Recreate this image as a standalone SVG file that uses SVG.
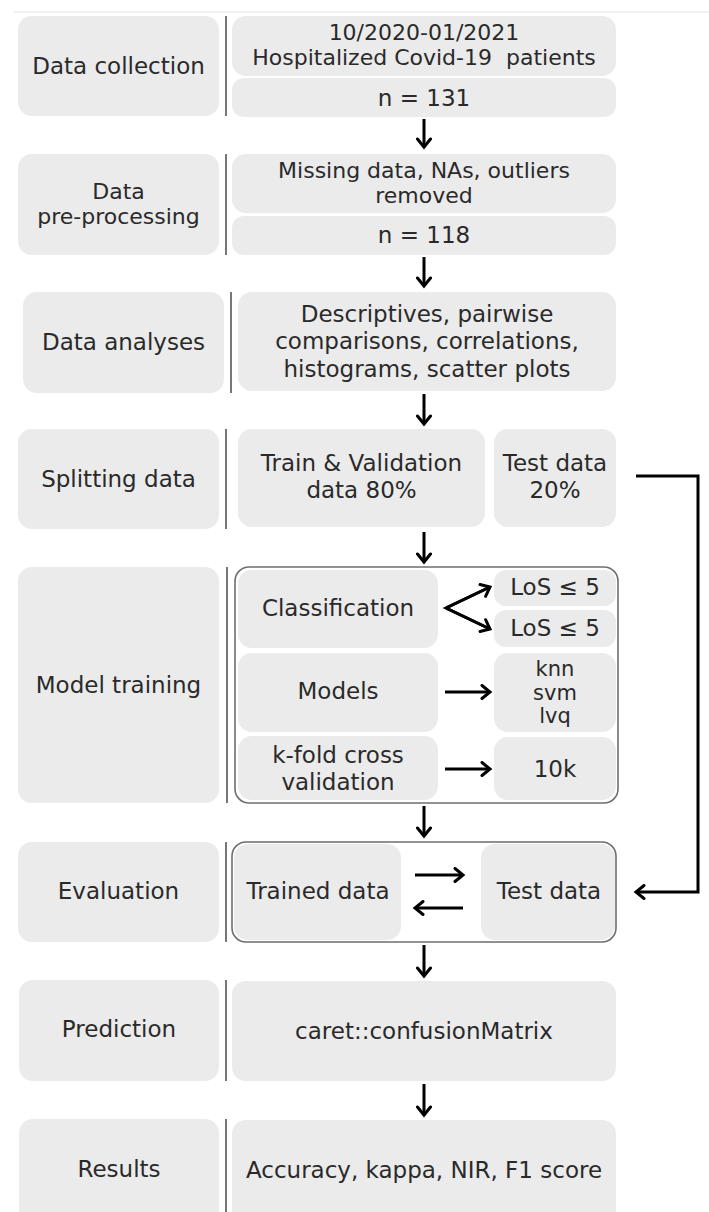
<svg xmlns="http://www.w3.org/2000/svg" width="709" height="1212" viewBox="0 0 709 1212">
<style>
.box{fill:#ebebeb;}
.t{font-family:"DejaVu Sans","Liberation Sans",sans-serif;font-size:23px;fill:#2a2a2a;text-anchor:middle;}
.s{font-size:22px;}
.xs{font-size:21px;}
.sep{stroke:#555;stroke-width:1.6;}
.cont{fill:none;stroke:#6e6e6e;stroke-width:1.6;}
.arr{stroke:#000;stroke-width:3;fill:none;marker-end:url(#ah);}
</style>
<defs>
<marker id="ah" viewBox="0 0 14 16" refX="11" refY="8" markerWidth="14" markerHeight="16" markerUnits="userSpaceOnUse" orient="auto">
<path d="M3,1.5 L11,8 L3,14.5" fill="none" stroke="#000" stroke-width="3" stroke-linecap="round" stroke-linejoin="miter"/>
</marker>
</defs>
<rect width="709" height="1212" fill="#fff"/>
<line x1="13" y1="12" x2="709" y2="12" stroke="#f1f1f1" stroke-width="2"/>

<g id="row1">
<rect class="box" x="18" y="16" width="201" height="100" rx="14"/>
<line class="sep" x1="226" y1="16" x2="226" y2="116"/>
<text class="t" x="118.5" y="74">Data collection</text>
<g id="n1a"><rect class="box" x="232" y="16" width="384" height="60" rx="14"/>
<text class="t s" x="424" y="40">10/2020-01/2021</text>
<text class="t s" x="424" y="65" xml:space="preserve">Hospitalized Covid-19  patients</text></g>
<g id="n1b"><rect class="box" x="232" y="78" width="384" height="39" rx="12"/>
<text class="t" x="424" y="106">n = 131</text></g>
</g>

<g id="row2">
<rect class="box" x="18" y="154" width="201" height="101" rx="14"/>
<line class="sep" x1="226" y1="154" x2="226" y2="255"/>
<text class="t s" x="118.5" y="199">Data</text>
<text class="t s" x="118.5" y="224">pre-processing</text>
<g id="n2a"><rect class="box" x="232" y="154" width="384" height="59" rx="14"/>
<text class="t s" x="424" y="178">Missing data, NAs, outliers</text>
<text class="t s" x="424" y="203">removed</text></g>
<g id="n2b"><rect class="box" x="232" y="216" width="384" height="39" rx="12"/>
<text class="t" x="424" y="243">n = 118</text></g>
</g>

<g id="row3">
<rect class="box" x="23" y="292" width="201" height="101" rx="14"/>
<line class="sep" x1="231" y1="292" x2="231" y2="393"/>
<text class="t" x="123.5" y="350">Data analyses</text>
<g id="n3"><rect class="box" x="238" y="292" width="378" height="99" rx="14"/>
<text class="t" x="427" y="322">Descriptives, pairwise</text>
<text class="t" x="427" y="349">comparisons, correlations,</text>
<text class="t" x="427" y="377">histograms, scatter plots</text></g>
</g>

<g id="row4">
<rect class="box" x="18" y="429" width="201" height="100" rx="14"/>
<line class="sep" x1="226" y1="429" x2="226" y2="529"/>
<text class="t" x="118.5" y="487">Splitting data</text>
<g id="n4a"><rect class="box" x="238" y="429" width="247" height="98" rx="14"/>
<text class="t" x="361.5" y="471">Train &amp; Validation</text>
<text class="t" x="361.5" y="498">data 80%</text></g>
<g id="n4b"><rect class="box" x="494" y="429" width="122" height="98" rx="14"/>
<text class="t" x="555" y="471">Test data</text>
<text class="t" x="555" y="498">20%</text></g>
</g>

<g id="row5">
<rect class="box" x="18" y="567" width="201" height="236" rx="14"/>
<line class="sep" x1="227" y1="567" x2="227" y2="803"/>
<text class="t" x="118.5" y="693">Model training</text>
<g id="n5a"><rect class="box" x="238" y="570" width="200" height="78" rx="14"/>
<text class="t" x="338" y="616">Classification</text></g>
<g id="n5b"><rect class="box" x="494" y="570" width="122" height="36" rx="12"/>
<text class="t" x="555" y="595">LoS ≤ 5</text></g>
<g id="n5c"><rect class="box" x="494" y="610" width="122" height="37" rx="12"/>
<text class="t" x="555" y="636">LoS ≤ 5</text></g>
<g id="n5d"><rect class="box" x="238" y="653" width="200" height="79" rx="14"/>
<text class="t" x="338" y="699">Models</text></g>
<g id="n5e"><rect class="box" x="494" y="653" width="122" height="79" rx="14"/>
<text class="t xs" x="555" y="676">knn</text>
<text class="t xs" x="555" y="700">svm</text>
<text class="t xs" x="555" y="723">lvq</text></g>
<g id="n5f"><rect class="box" x="238" y="736" width="200" height="64" rx="14"/>
<text class="t" x="338" y="763">k-fold cross</text>
<text class="t" x="338" y="790">validation</text></g>
<g id="n5g"><rect class="box" x="494" y="737" width="122" height="63" rx="14"/>
<text class="t" x="555" y="777">10k</text></g>
<rect class="cont" x="235" y="567" width="383" height="236" rx="14"/>
</g>

<g id="row6">
<rect class="box" x="18" y="842" width="201" height="100" rx="14"/>
<line class="sep" x1="226" y1="842" x2="226" y2="942"/>
<text class="t" x="118.5" y="899">Evaluation</text>
<g id="n6a"><rect class="box" x="234" y="844" width="167" height="96" rx="14"/>
<text class="t" x="318" y="899">Trained data</text></g>
<g id="n6b"><rect class="box" x="481" y="844" width="134" height="96" rx="14"/>
<text class="t" x="549" y="899">Test data</text></g>
<rect class="cont" x="232" y="842" width="384" height="100" rx="14"/>
</g>

<g id="row7">
<rect class="box" x="19" y="980" width="200" height="101" rx="14"/>
<line class="sep" x1="226" y1="980" x2="226" y2="1081"/>
<text class="t" x="119" y="1037">Prediction</text>
<g id="n7"><rect class="box" x="232" y="981" width="384" height="100" rx="14"/>
<text class="t" x="424" y="1039">caret::confusionMatrix</text></g>
</g>

<g id="row8">
<rect class="box" x="19" y="1119" width="200" height="110" rx="14"/>
<line class="sep" x1="226" y1="1119" x2="226" y2="1212"/>
<text class="t" x="119" y="1177">Results</text>
<g id="n8"><rect class="box" x="232" y="1120" width="384" height="110" rx="14"/>
<text class="t" x="424" y="1178">Accuracy, kappa, NIR, F1 score</text></g>
</g>

<g id="connectors">
<line class="arr" x1="424" y1="119" x2="424" y2="147"/>
<line class="arr" x1="424" y1="257" x2="424" y2="286"/>
<line class="arr" x1="424" y1="394" x2="424" y2="424"/>
<line class="arr" x1="424" y1="532" x2="424" y2="562"/>
<line class="arr" x1="424" y1="806" x2="424" y2="836"/>
<line class="arr" x1="424" y1="945" x2="424" y2="976"/>
<line class="arr" x1="424" y1="1084" x2="424" y2="1115"/>
<path d="M490,587 L446,608 L490,629" fill="none" stroke="#000" stroke-width="3" stroke-linejoin="miter"/>
<line class="arr" x1="446" y1="608" x2="490" y2="587"/>
<line class="arr" x1="446" y1="608" x2="490" y2="629"/>
<line class="arr" x1="445" y1="692" x2="490" y2="692"/>
<line class="arr" x1="445" y1="769" x2="490" y2="769"/>
<line class="arr" x1="415" y1="875" x2="463" y2="875"/>
<line class="arr" x1="463" y1="908" x2="415" y2="908"/>
<polyline class="arr" points="636,476 698,476 698,892 636,892"/>
</g>
</svg>
